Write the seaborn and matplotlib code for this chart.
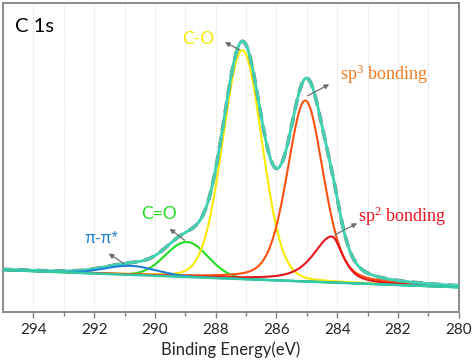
import numpy as np
import pandas as pd
import matplotlib
matplotlib.use("Agg")
import matplotlib.pyplot as plt
import seaborn as sns

# ---- data ----
peak_names = ["π-π*", "C=O", "C-O", "sp3", "sp2"]
peak_centers = [290.8, 288.95, 287.12, 285.05, 284.18]   # eV
peak_heights = [9, 35, 229, 181, 46]                      # above background
peak_hwhm_left = [1.0, 0.82, 0.76, 0.70, 0.72]
peak_hwhm_right = [1.0, 0.82, 0.76, 0.70, 0.44]
peak_eta = [0.0, 0.0, 0.1, 0.3, 0.7]                      # Lorentzian fraction
peak_colors = ["#1F7FD6", "#22DD22", "#F7EA00", "#FF5010", "#E8141C"]
peak_z = [6, 3, 3, 3, 3]

bg_energy = [295.0, 280.0]
bg_level = [42.0, 24.7]

xticks = [294, 292, 290, 288, 286, 284, 282, 280]
xlim = (295, 280)

# ---- build curves ----
E = np.linspace(295, 280, 1201)
bg = bg_level[1] + (bg_level[0] - bg_level[1]) * (E - bg_energy[1]) / (bg_energy[0] - bg_energy[1])


def peak(E, c, h, wl, wr, eta):
    w = np.where(E >= c, wl, wr)
    d = (E - c) / w
    g = np.exp(-np.log(2) * d ** 2)
    l = 1.0 / (1.0 + d ** 2)
    return h * ((1 - eta) * g + eta * l)


comps = [peak(E, c, h, wl, wr, et) for c, h, wl, wr, et in
         zip(peak_centers, peak_heights, peak_hwhm_left, peak_hwhm_right, peak_eta)]
envelope = bg + np.sum(comps, axis=0)

sns.set_style("white")
plt.rcParams["font.family"] = ["Lato", "DejaVu Sans"]
plt.rcParams["mathtext.fontset"] = "custom"
plt.rcParams["mathtext.rm"] = "Liberation Serif"
plt.rcParams["mathtext.it"] = "Liberation Serif:italic"

fig = plt.figure(figsize=(4.74, 3.63), dpi=100)
ax = fig.add_axes([3 / 474, 1 - 312 / 363, 455.7 / 474, 309 / 363])

# vertical dotted grid
for xv in range(281, 295):
    ax.axvline(xv, color="#d8d8d8", lw=0.8, ls=(0, (1, 1.5)), zorder=0)

for comp, col, z in zip(comps, peak_colors, peak_z):
    dfc = pd.DataFrame({"E": E, "I": bg + comp})
    sns.lineplot(data=dfc, x="E", y="I", ax=ax, color=col, lw=1.5, zorder=z)

df_env = pd.DataFrame({"E": E, "I": envelope})
sns.lineplot(data=df_env, x="E", y="I", ax=ax, color="#7a7a7a", lw=2.6,
             ls=(0, (3, 2)), zorder=4)
sns.lineplot(data=df_env, x="E", y="I", ax=ax, color="#40D2B2", lw=2.1, zorder=5)

df_bg = pd.DataFrame({"E": E, "I": bg})
sns.lineplot(data=df_bg, x="E", y="I", ax=ax, color="#33C9A4", lw=1.8, zorder=6.5)

ax.set_xlim(*xlim)
ax.set_ylim(0, 309)
ax.set_xticks(xticks)
ax.set_xticks(range(281, 295, 2), minor=True)
ax.set_yticks([])
ax.tick_params(axis="x", which="major", direction="out", length=4, width=1,
               color="#808080", labelsize=11, pad=4, bottom=True)
ax.tick_params(axis="x", which="minor", direction="out", length=3, width=1,
               color="#808080", bottom=True)
ax.set_xlabel("Binding Energy(eV)", fontsize=12, labelpad=3)
ax.set_ylabel("")
for s in ax.spines.values():
    s.set_color("#8a8a8a")
    s.set_linewidth(1.4)

arrow_kw = dict(arrowstyle="-|>", color="#6e6e6e", lw=0.9, mutation_scale=7)
ax.annotate("", xy=(287.78, 271), xytext=(287.12, 261), arrowprops=arrow_kw, zorder=7)
ax.annotate("", xy=(284.18, 229), xytext=(285.05, 215), arrowprops=arrow_kw, zorder=7)
ax.annotate("", xy=(283.26, 90), xytext=(284.15, 76), arrowprops=arrow_kw, zorder=7)
ax.annotate("", xy=(289.59, 85), xytext=(288.95, 70), arrowprops=arrow_kw, zorder=7)
ax.annotate("", xy=(291.6, 60), xytext=(290.95, 47), arrowprops=arrow_kw, zorder=7)

ax.text(288.57, 273, "C-O", color="#F7EA00", fontsize=12.5, ha="center", va="center")
ax.text(289.85, 98, "C=O", color="#22DD22", fontsize=12.5, ha="center", va="center")
ax.text(291.77, 73.5, "π-π*", color="#1F7FD6", fontsize=11.5, ha="center", va="center",
        family=["Liberation Sans", "DejaVu Sans"])
ax.text(283.92, 238, r"sp$^\mathrm{3}$ bonding", color="#F07820", fontsize=13, ha="left",
        va="center", family=["Liberation Serif"])
ax.text(283.32, 96, r"sp$^\mathrm{2}$ bonding", color="#E8141C", fontsize=13, ha="left",
        va="center", family=["Liberation Serif"])
ax.text(294.61, 285, "C 1s", color="black", fontsize=14.5, ha="left", va="center")

fig.savefig("out.png", dpi=100)
